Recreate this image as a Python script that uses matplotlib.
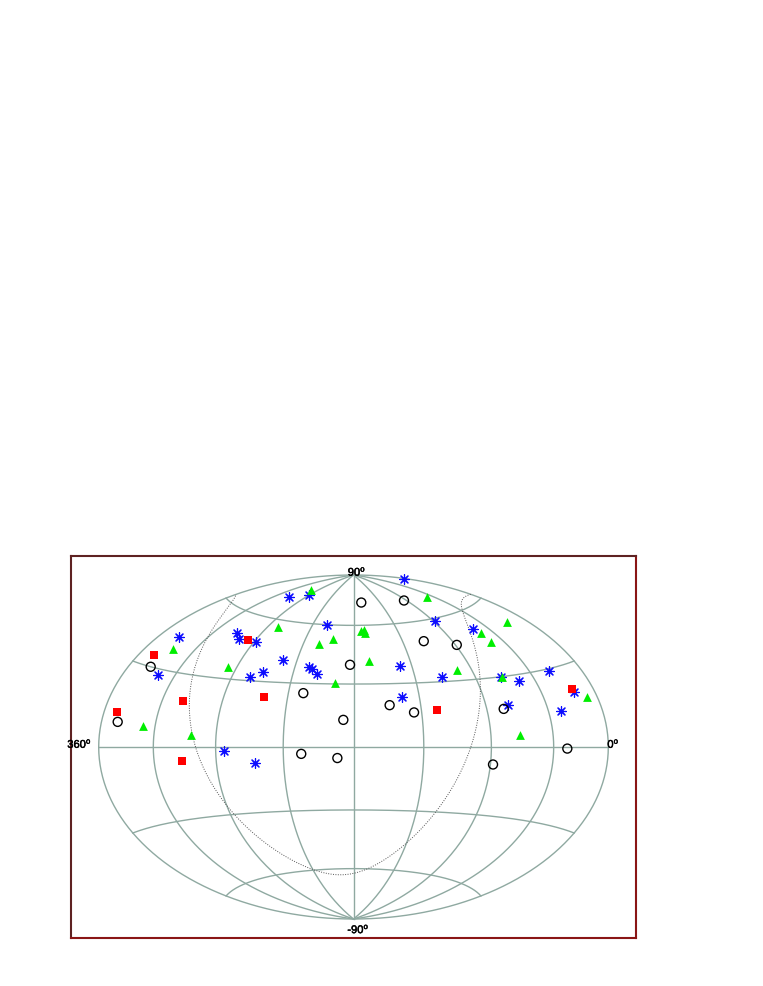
#!/usr/bin/env python3
# -*- coding: utf-8 -*-
"""
Sky map of the sources, Hammer projection, longitude running right to left
"""

import numpy as np
import matplotlib
matplotlib.use("Agg")
import matplotlib.pyplot as plt
import matplotlib.patheffects as pe

plt.rcParams['font.family'] = ['Liberation Sans', 'DejaVu Sans']
plt.rcParams['mathtext.fontset'] = 'custom'
plt.rcParams['mathtext.rm'] = 'Liberation Sans'
plt.rcParams['mathtext.default'] = 'regular'

# longitude / latitude of each class, degrees
star_l = [295.8,269.6,209.3,340.5,293.5,285.0,268.3,236.5,247.9,256.0,329.3,214.3,211.8,207.3,264.5,244.0,0.9,87.9,60.3,144.0,115.0,70.2,58.1,29.0,18.7,146.9,74.1,35.1]
star_b = [71.2,74.2,60.0,42.6,50.6,47.9,47.9,41.0,34.7,31.5,27.7,37.8,37.2,34.8,-1.7,-7.2,78.6,58.6,51.7,38.7,32.1,30.0,27.3,29.1,19.9,23.7,17.9,13.8]
tri_l = [284.8,258.7,199.6,210.7,334.7,277.2,193.2,324.2,287.6,53.4,19.6,57.0,56.7,172.3,169.1,168.5,167.4,101.4,69.7,9.0,69.6]
tri_b = [77.0,56.2,52.8,49.8,38.3,35.2,30.6,8.0,5.1,69.6,49.9,49.5,44.8,56.9,57.4,55.9,41.6,34.9,29.9,17.6,5.0]
sq_l = [345.6,276.7,298.5,241.5,348.9,294.5,124.3,18.8]
sq_b = [34.0,48.4,18.8,23.1,12.4,-6.0,16.9,21.3]
circ_l = [340.2,214.6,182.7,186.6,345.8,213.4,190.3,166.5,93.8,115.7,88.8,155.9,140.1,77.9,34.4,88.2]
circ_b = [30.0,25.3,39.5,12.8,8.9,-3.2,-5.2,72.8,71.2,49.9,46.3,19.7,16.1,16.3,-0.6,-7.6]

meridians = [0, 45, 90, 135, 180, 225, 270, 315, 360]
parallels = [-60, -30, 0, 30, 60]

# great circle drawn dotted: longitude and latitude of its highest point
circle_top_l = 14.0
circle_top_b = 63.3

GRID = '#8fa9a1'
SQ2 = np.sqrt(2)


def hammer(l, b):
    lam = np.radians(180 - np.asarray(l, dtype=float))
    phi = np.radians(np.asarray(b, dtype=float))
    d = np.sqrt(1 + np.cos(phi) * np.cos(lam / 2))
    return 2 * SQ2 * np.cos(phi) * np.sin(lam / 2) / d, SQ2 * np.sin(phi) / d


fig = plt.figure(figsize=(7.63, 9.87), dpi=100)
ax = fig.add_axes([71 / 763, 1 - 938.5 / 987, 565 / 763, 382 / 987])

# frame limits so that the ellipse sits where it does in the page
ax.set_xlim((71 - 353.5) / 254.8 * 2 * SQ2, (636 - 353.5) / 254.8 * 2 * SQ2)
ax.set_ylim((748 - 938.5) / 172 * SQ2, (748 - 556.5) / 172 * SQ2)
ax.set_xticks([])
ax.set_yticks([])
for side, col in zip(['top', 'left', 'right', 'bottom'], ['#5e2222', '#5e2222', '#8a1616', '#8a1616']):
    ax.spines[side].set_color(col)
    ax.spines[side].set_linewidth(1.5)

for m in meridians:
    x, y = hammer(np.full(181, m), np.linspace(-90, 90, 181))
    ax.plot(x, y, color=GRID, lw=1.0, zorder=1)
for p in parallels:
    x, y = hammer(np.linspace(0.001, 359.999, 361), np.full(361, p))
    ax.plot(x, y, color=GRID, lw=1.0, zorder=1)

# dotted great circle, split where it wraps round the edge of the map
ll = np.linspace(0.01, 359.99, 720)
bb = np.degrees(np.arctan(np.tan(np.radians(circle_top_b)) * np.cos(np.radians(ll - circle_top_l))))
x, y = hammer(ll, bb)
ax.plot(x, y, color='#555555', lw=0.7, ls=(0, (1, 1.5)), zorder=1.5)

x, y = hammer(star_l, star_b)
ax.scatter(x, y, marker=(8, 2, 0), s=50, color='#0c0cff', linewidths=0.85, zorder=3)
x, y = hammer(tri_l, tri_b)
ax.scatter(x, y, marker='^', s=40, color='#00ee00', linewidths=0, zorder=4)
x, y = hammer(sq_l, sq_b)
ax.scatter(x, y, marker='s', s=38, color='#ff0000', linewidths=0, zorder=5)
x, y = hammer(circ_l, circ_b)
ax.scatter(x, y, marker='o', s=42, facecolors='none', edgecolors='black', linewidths=1.0, zorder=6)

lab = dict(fontsize=8.0, color='black', zorder=7,
           path_effects=[pe.withStroke(linewidth=0.35, foreground='black')])
ax.text(0.039, 1.443, r'$90^{o}$', ha='center', va='center', **lab)
ax.text(0.055, -1.496, r'-$90^{o}$', ha='center', va='center', **lab)
ax.text(-2.903, 0.028, r'$360^{o}$', ha='right', va='center', **lab)
ax.text(2.818, 0.028, r'$0^{o}$', ha='left', va='center', **lab)

fig.savefig('out.png', dpi=100)
